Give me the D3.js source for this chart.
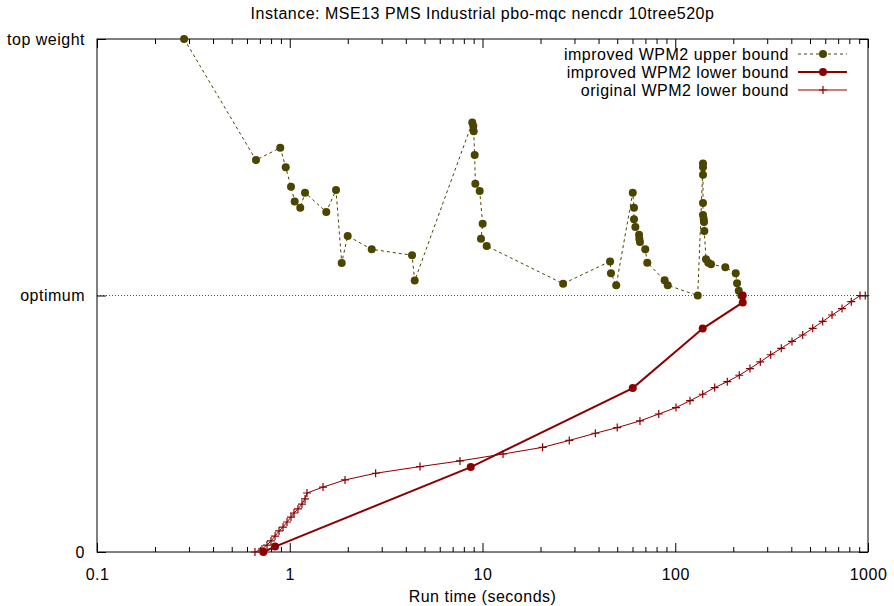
<!DOCTYPE html>
<html>
<head>
<meta charset="utf-8">
<script src="https://cdn.jsdelivr.net/npm/d3@7"></script>
<style>
  body { margin: 0; background: #fff; }
  text { font-family: "Liberation Sans", Arial, Helvetica, sans-serif; font-size: 16px; letter-spacing: 0.5px; fill: #000; }
</style>
</head>
<body>
<div id="chart"></div>
<script>
// run time (seconds) / normalized weight (0 = 0, 1 = optimum, 2 = top weight)
const upperTime = [0.283, 0.668, 0.893, 0.953, 1.015, 1.061, 1.134, 1.200, 1.547, 1.738, 1.860, 1.998,
  2.662, 4.31, 4.45, 8.85, 8.96, 9.00, 9.11, 9.18, 9.67, 10.02, 9.82, 10.51, 26.2, 45.9, 46.4, 49.4,
  60.2, 61.1, 61.1, 62.1, 64.9, 65.1, 65.6, 69.9, 71.6, 88.1, 91.4, 130.8, 139.3, 139.3, 139.3, 139.3,
  139.3, 140.5, 141.0, 141.5, 144.4, 148.4, 153.3, 181.9, 205.9, 209.2, 213.5, 220.2];
const upperWeight = [2.0, 1.528, 1.576, 1.500, 1.424, 1.366, 1.342, 1.401, 1.326, 1.411, 1.127, 1.232,
  1.180, 1.157, 1.058, 1.674, 1.661, 1.640, 1.548, 1.436, 1.407, 1.280, 1.221, 1.193, 1.046, 1.133, 1.087, 1.040,
  1.401, 1.342, 1.297, 1.267, 1.237, 1.221, 1.209, 1.180, 1.128, 1.059, 1.040, 1.0, 1.515, 1.500, 1.471, 1.361,
  1.314, 1.298, 1.287, 1.251, 1.141, 1.128, 1.122, 1.110, 1.087, 1.048, 1.019, 1.0];

const lowerTime = [0.729, 0.839, 8.69, 60.2, 138.8, 223.9, 223.9];
const lowerWeight = [0, 0.021, 0.331, 0.639, 0.871, 0.973, 1.0];

const origTime = [0.660, 0.718, 0.762, 0.799, 0.839, 0.880, 0.923, 0.968, 1.015, 1.052, 1.103, 1.157, 1.200, 1.229,
  1.488, 1.935, 2.79, 4.74, 7.64, 12.78, 20.5, 28.2, 38.5, 50.0, 65.6, 82.1, 100.9, 119.3, 138.8, 160.2,
  186.2, 214.9, 244.2, 276.2, 312.7, 354.9, 403.4, 458.3, 516.6, 582.1, 650.6, 733.2, 819.2, 908.9, 968];
const origWeight = [0, 0.012, 0.027, 0.043, 0.062, 0.082, 0.097, 0.117, 0.136, 0.152, 0.168, 0.187, 0.207, 0.230,
  0.253, 0.281, 0.307, 0.333, 0.355, 0.382, 0.408, 0.435, 0.463, 0.485, 0.511, 0.538, 0.563, 0.590, 0.615, 0.641,
  0.664, 0.689, 0.715, 0.741, 0.769, 0.794, 0.821, 0.846, 0.872, 0.899, 0.924, 0.949, 0.976, 1.0, 1.0];

const xTicks = [0.1, 1, 10, 100, 1000];
const xTickLabels = ["0.1", "1", "10", "100", "1000"];
const yTicks = [0, 1, 2];
const yTickLabels = ["0", "optimum", "top weight"];
const legendLabels = ["improved WPM2 upper bound", "improved WPM2 lower bound", "original WPM2 lower bound"];

const width = 894, height = 606;
const plotLeft = 97, plotRight = 868, plotTop = 39, plotBottom = 552;
const olive = "#4b4500", red = "#8b0000";

const x = d3.scaleLog().domain([0.1, 1000]).range([plotLeft, plotRight]);
const y = d3.scaleLinear().domain([0, 2]).range([plotBottom, plotTop]);

const svg = d3.select("#chart").append("svg")
    .attr("width", width)
    .attr("height", height);

// optimum reference line
svg.append("line")
    .attr("x1", plotLeft).attr("x2", plotRight)
    .attr("y1", y(1)).attr("y2", y(1))
    .attr("stroke", "#555").attr("stroke-width", 1)
    .attr("stroke-dasharray", "1,2");

// minor ticks
const minor = [];
for (let d = 0.1; d < 1000; d *= 10) {
    for (let k = 2; k <= 9; k++) minor.push(+(d * k).toPrecision(3));
}

svg.append("g").attr("transform", "translate(0," + plotBottom + ")")
    .call(d3.axisBottom(x).tickValues(minor).tickSize(-5).tickFormat(""))
    .call(g => g.select(".domain").remove());
svg.append("g").attr("transform", "translate(0," + plotTop + ")")
    .call(d3.axisTop(x).tickValues(minor).tickSize(-5).tickFormat(""))
    .call(g => g.select(".domain").remove());

svg.append("g").attr("transform", "translate(0," + plotBottom + ")")
    .call(d3.axisBottom(x).tickValues(xTicks).tickSize(-9).tickPadding(17)
        .tickFormat((d, i) => xTickLabels[i]))
    .call(g => g.select(".domain").remove())
    .call(g => g.selectAll("text").attr("font-size", null).attr("font-family", null));
svg.append("g").attr("transform", "translate(0," + plotTop + ")")
    .call(d3.axisTop(x).tickValues(xTicks).tickSize(-9).tickFormat(""))
    .call(g => g.select(".domain").remove());

svg.append("g").attr("transform", "translate(" + plotLeft + ",0)")
    .call(d3.axisLeft(y).tickValues(yTicks).tickSize(-9).tickPadding(12)
        .tickFormat((d, i) => yTickLabels[i]))
    .call(g => g.select(".domain").remove())
    .call(g => g.selectAll("text").attr("font-size", null).attr("font-family", null));
svg.append("g").attr("transform", "translate(" + plotRight + ",0)")
    .call(d3.axisRight(y).tickValues(yTicks).tickSize(-9).tickFormat(""))
    .call(g => g.select(".domain").remove());

// border
svg.append("rect")
    .attr("x", plotLeft).attr("y", plotTop)
    .attr("width", plotRight - plotLeft).attr("height", plotBottom - plotTop)
    .attr("fill", "none").attr("stroke", "#000").attr("stroke-width", 1);

// title and axis label
svg.append("text")
    .attr("x", (plotLeft + plotRight) / 2).attr("y", 19)
    .attr("text-anchor", "middle")
    .text("Instance: MSE13 PMS Industrial pbo-mqc nencdr 10tree520p");
svg.append("text")
    .attr("x", (plotLeft + plotRight) / 2).attr("y", 602)
    .attr("text-anchor", "middle")
    .text("Run time (seconds)");

const line = d3.line().x(d => x(d[0])).y(d => y(d[1]));

const upper = d3.zip(upperTime, upperWeight);
const lower = d3.zip(lowerTime, lowerWeight);
const orig = d3.zip(origTime, origWeight);

// upper bound
svg.append("path").datum(upper)
    .attr("d", line)
    .attr("fill", "none").attr("stroke", olive).attr("stroke-width", 1)
    .attr("stroke-dasharray", "3,3");
svg.append("g").selectAll("circle").data(upper).join("circle")
    .attr("cx", d => x(d[0])).attr("cy", d => y(d[1])).attr("r", 4)
    .attr("fill", olive);

// improved lower bound
svg.append("path").datum(lower)
    .attr("d", line)
    .attr("fill", "none").attr("stroke", red).attr("stroke-width", 2);
svg.append("g").selectAll("circle").data(lower).join("circle")
    .attr("cx", d => x(d[0])).attr("cy", d => y(d[1])).attr("r", 4)
    .attr("fill", red);

// original lower bound
svg.append("path").datum(orig)
    .attr("d", line)
    .attr("fill", "none").attr("stroke", red).attr("stroke-width", 1);
const plus = s => "M" + (-s) + ",0H" + s + "M0," + (-s) + "V" + s;
svg.append("g").selectAll("path").data(orig).join("path")
    .attr("transform", d => "translate(" + x(d[0]) + "," + y(d[1]) + ")")
    .attr("d", plus(4))
    .attr("stroke", red).attr("stroke-width", 1.2).attr("fill", "none");

// legend
const legend = svg.append("g");
legendLabels.forEach(function(label, i) {
    const ly = 54 + i * 18;
    legend.append("text")
        .attr("x", 789).attr("y", ly).attr("dy", "0.35em")
        .attr("text-anchor", "end")
        .text(label);
    const sample = legend.append("line")
        .attr("x1", 798).attr("x2", 847).attr("y1", ly).attr("y2", ly)
        .attr("stroke", i === 0 ? olive : red)
        .attr("stroke-width", i === 1 ? 2 : 1);
    if (i === 0) sample.attr("stroke-dasharray", "3,3");
    if (i < 2) {
        legend.append("circle").attr("cx", 823).attr("cy", ly).attr("r", 4)
            .attr("fill", i === 0 ? olive : red);
    } else {
        legend.append("path").attr("transform", "translate(823," + ly + ")")
            .attr("d", plus(4)).attr("stroke", red).attr("stroke-width", 1.2);
    }
});
</script>
</body>
</html>
